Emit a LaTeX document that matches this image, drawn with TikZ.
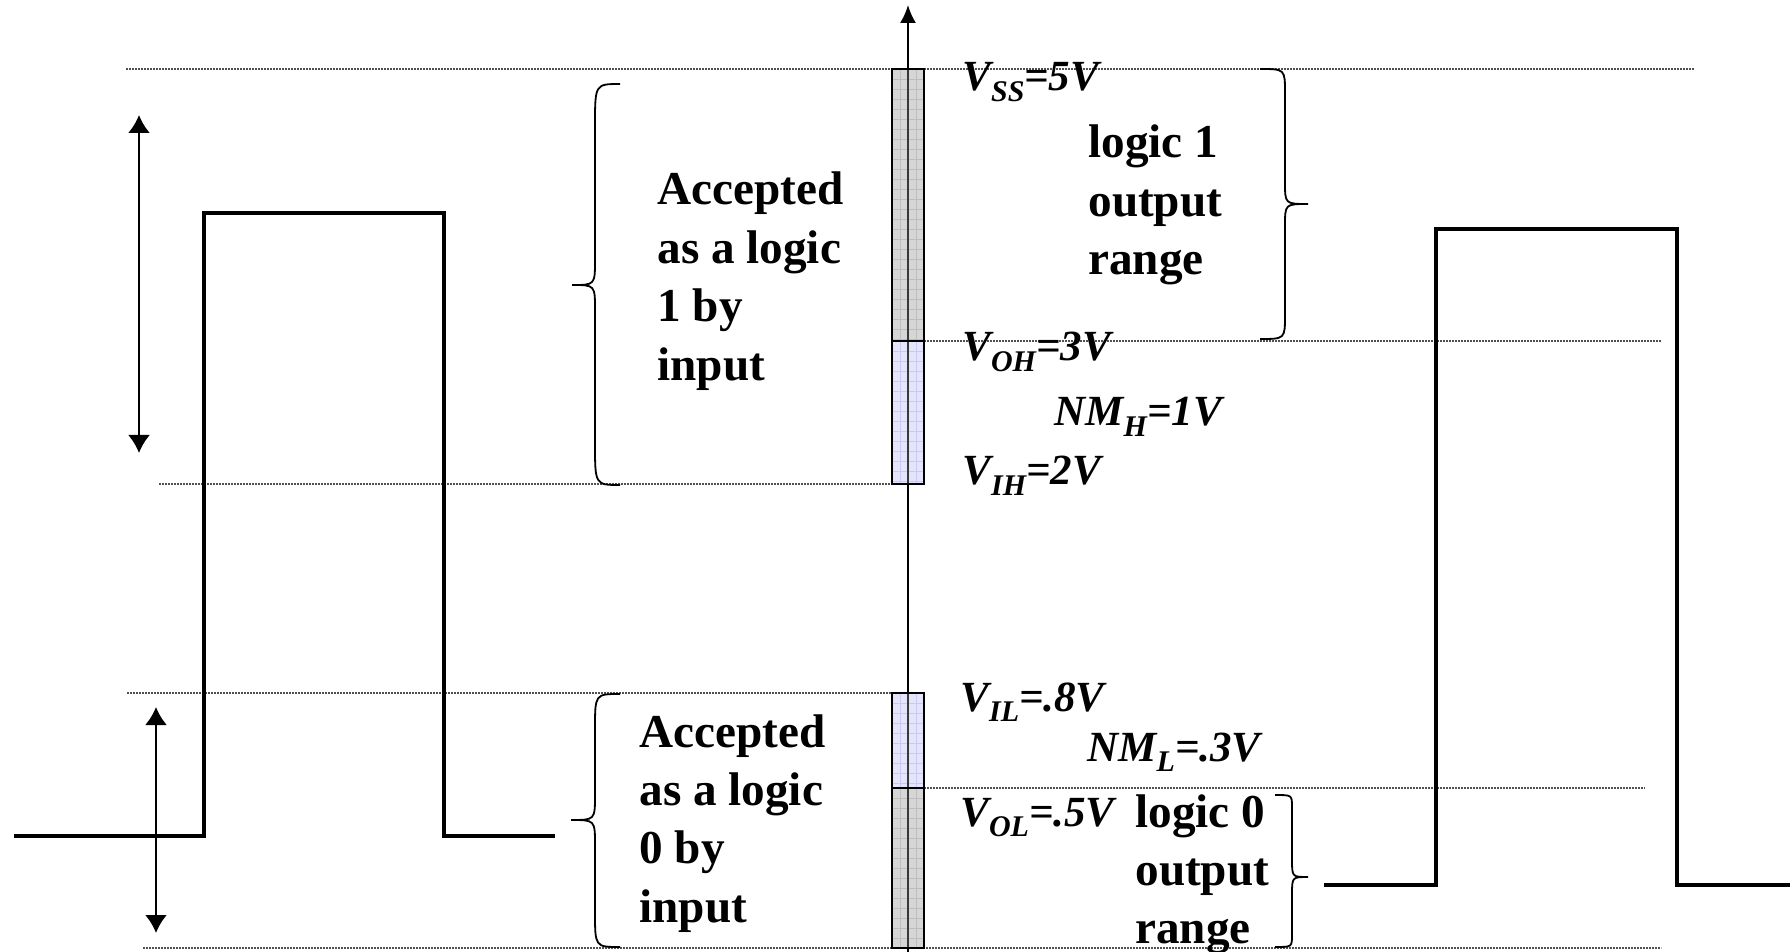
\documentclass[tikz,border=0pt]{standalone}
\usepackage{fontspec}
\setmainfont{Liberation Serif}
\usetikzlibrary{arrows.meta}

\definecolor{barGray}{HTML}{D6D6D6}
\definecolor{barGrid}{HTML}{BEBEBE}
\definecolor{barLav}{HTML}{E4E4FC}
\definecolor{lavGrid}{HTML}{CBCBEE}
\definecolor{levelDot}{HTML}{505050}

% subscript for the voltage labels
\newcommand\sub[1]{\raisebox{-0.25em}{\fontsize{15}{15}\selectfont #1}}
% several lines of text, baseline on the first line
\newcommand\stacklines[1]{\begin{tabular}[t]{@{}l@{}}#1\end{tabular}}
% curly brace: end x, stem x, tip x, top y, tip y, bottom y, end curl, tip curl
\newcommand\curlybrace[8]{%
  \pgfmathsetmacro\cbA{#4+#7}\pgfmathsetmacro\cbB{#5-#8}%
  \pgfmathsetmacro\cbC{#5+#8}\pgfmathsetmacro\cbD{#6-#7}%
  \draw[bracestyle] (#1,#4) .. controls (#2,#4) .. (#2,\cbA) -- (#2,\cbB)
    .. controls (#2,#5) .. (#3,#5) .. controls (#2,#5) .. (#2,\cbC) -- (#2,\cbD)
    .. controls (#2,#6) .. (#1,#6);}

\begin{document}
\begin{tikzpicture}[x=0.5pt,y=-0.5pt,
  levelline/.style={levelDot, line width=0.9pt, dash pattern=on 0.9pt off 0.6pt},
  pulse/.style={line width=2pt, line join=miter},
  bracestyle/.style={line width=0.9pt},
  rangearrow/.style={line width=1.3pt, {Latex[length=9pt,width=11pt]}-{Latex[length=9pt,width=11pt]}},
  axisline/.style={line width=1pt, -{Latex[length=9pt,width=8pt]}},
  baredge/.style={line width=1pt},
  bigtext/.style={font=\fontsize{23.6}{29.2}\selectfont\bfseries, anchor=base west, inner sep=0pt},
  lab/.style={font=\fontsize{21.5}{25}\selectfont\bfseries\itshape, anchor=base west, inner sep=0pt}]

\path[use as bounding box] (0,0) rectangle (1790,952);

% voltage levels
\draw[levelline] (126,69) -- (1694,69);
\draw[levelline] (924,341) -- (1661,341);
\draw[levelline] (159,484) -- (892,484);
\draw[levelline] (127,693) -- (892,693);
\draw[levelline] (924,788) -- (1645,788);
\draw[levelline] (143,948) -- (1661,948);

% input pulse and its swing arrows
\draw[pulse] (14,836) -- (204,836) -- (204,213) -- (444,213) -- (444,836) -- (555,836);
\coordinate (hiTop) at (139,115);
\coordinate (hiBot) at (139,453);
\coordinate (loTop) at (156,707);
\coordinate (loBot) at (156,933);
\draw[rangearrow] (hiTop) -- (hiBot);
\draw[rangearrow] (loTop) -- (loBot);

% output pulse
\draw[pulse] (1324,885) -- (1436,885) -- (1436,229) -- (1677,229) -- (1677,885) -- (1790,885);

% voltage bar
\fill[barGray] (892,69) rectangle (924,341);
\fill[barLav] (892,341) rectangle (924,484);
\fill[barLav] (892,693) rectangle (924,788);
\fill[barGray] (892,788) rectangle (924,948);
\foreach \yy in {79,89,...,339} \draw[barGrid, line width=0.3pt] (892,\yy) -- (924,\yy);
\foreach \yy in {351,361,...,481} \draw[lavGrid, line width=0.3pt] (892,\yy) -- (924,\yy);
\foreach \yy in {703,713,...,783} \draw[lavGrid, line width=0.3pt] (892,\yy) -- (924,\yy);
\foreach \yy in {798,808,...,948} \draw[barGrid, line width=0.3pt] (892,\yy) -- (924,\yy);
\foreach \xx in {900,916} {
  \draw[barGrid, line width=0.3pt] (\xx,69) -- (\xx,341);
  \draw[lavGrid, line width=0.3pt] (\xx,341) -- (\xx,484);
  \draw[lavGrid, line width=0.3pt] (\xx,693) -- (\xx,788);
  \draw[barGrid, line width=0.3pt] (\xx,788) -- (\xx,948);
}

% voltage axis
\coordinate (axBot) at (908,960);
\coordinate (axTop) at (908,5);
\draw[axisline] (axBot) -- (axTop);
\draw[gray!45!black, line width=1pt] (908,69) -- (908,484);
\draw[gray!45!black, line width=1pt] (908,693) -- (908,948);

\draw[baredge] (892,69) rectangle (924,341);
\draw[baredge] (892,341) rectangle (924,484);
\draw[baredge] (892,693) rectangle (924,788);
\draw[baredge] (892,788) rectangle (924,948);

% braces
\curlybrace{620}{595}{572}{84}{285}{485}{42}{25}
\curlybrace{620}{595}{571}{694}{820}{947}{35}{25}
\curlybrace{1260}{1285}{1308}{69}{204}{339}{24}{22}
\curlybrace{1275}{1292}{1308}{795}{877}{947}{12}{18}

% range descriptions
\node[bigtext] (in1) at (657,205) {\stacklines{Accepted\\as a logic\\1 by\\input}};
\node[bigtext] (in0) at (639,747) {\stacklines{Accepted\\as a logic\\0 by\\input}};
\node[bigtext] (out1) at (1088,158) {\stacklines{logic 1\\output\\range}};
\node[bigtext] (out0) at (1135,827) {\stacklines{logic 0\\output\\range}};

% level values
\node[lab] (vss) at (962,91) {V\sub{SS}=5V};
\node[lab] (voh) at (962,361) {V\sub{OH}=3V};
\node[lab] (nmh) at (1054,426) {NM\sub{H}=1V};
\node[lab] (vih) at (962,485) {V\sub{IH}=2V};
\node[lab] (vil) at (960,711) {V\sub{IL}=.8V};
\node[lab] (nml) at (1087,761) {NM\sub{L}=.3V};
\node[lab] (vol) at (960,826) {V\sub{OL}=.5V};

\end{tikzpicture}
\end{document}
